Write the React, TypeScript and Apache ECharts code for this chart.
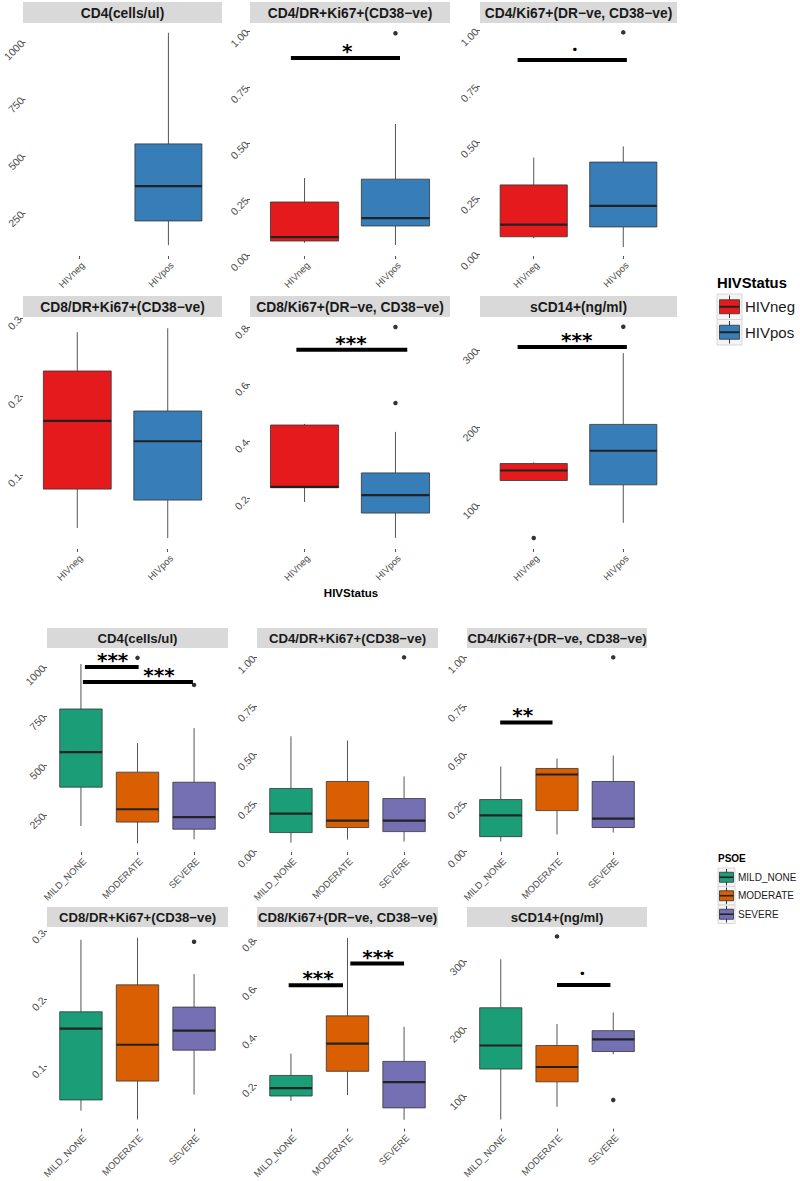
import React, { useEffect, useRef } from 'react';
import * as echarts from 'echarts';

const FONT = '"Liberation Sans", Arial, Helvetica, sans-serif';

// ---------- categories & colours ----------
const hivCats = ['HIVneg', 'HIVpos'];
const psoeCats = ['MILD_NONE', 'MODERATE', 'SEVERE'];
const hivColors = ['#E41A1C', '#377EB8'];
const psoeColors = ['#1B9E77', '#D95F02', '#7570B3'];

const markerTitles = [
  'CD4(cells/ul)',
  'CD4/DR+Ki67+(CD38−ve)',
  'CD4/Ki67+(DR−ve, CD38−ve)',
  'CD8/DR+Ki67+(CD38−ve)',
  'CD8/Ki67+(DR−ve, CD38−ve)',
  'sCD14+(ng/ml)',
];

// ---------- y ticks ----------
const ticksCD4 = [250, 500, 750, 1000];
const labelsCD4 = ['250', '500', '750', '1000'];
const ticksFrac = [0, 0.25, 0.5, 0.75, 1];
const labelsFrac = ['0.00', '0.25', '0.50', '0.75', '1.00'];
const ticksCD8DR = [0.1, 0.2, 0.3];
const labelsCD8DR = ['0.1', '0.2', '0.3'];
const ticksCD8Ki = [0.2, 0.4, 0.6, 0.8];
const labelsCD8Ki = ['0.2', '0.4', '0.6', '0.8'];
const ticksSCD14 = [100, 200, 300];
const labelsSCD14 = ['100', '200', '300'];

// ---------- y ranges (axis limits) ----------
const hivRanges = [[61.4, 1083], [-0.004, 1.036], [-0.01, 1.032], [0.0057, 0.3013], [0.021, 0.835], [43.2, 342.6]];
const psoeRanges = [[62.5, 1096], [-0.002, 1.048], [-0.002, 1.048], [0.0074, 0.307], [0.0204, 0.853], [51.5, 351]];

// ---------- box stats: [lower whisker, Q1, median, Q3, upper whisker] per category ----------
const hivCD4 = [null, [109, 215, 368, 553, 1040]];
const hivCD4DR = [[0.055, 0.063, 0.08, 0.237, 0.344], [0.045, 0.13, 0.165, 0.339, 0.585]];
const hivCD4Ki = [[0.07, 0.076, 0.13, 0.308, 0.43], [0.03, 0.12, 0.214, 0.41, 0.48]];
const hivCD8DR = [[0.0325, 0.082, 0.169, 0.2325, 0.282], [0.0196, 0.068, 0.143, 0.1815, 0.287]];
const hivCD8Ki = [[0.186, 0.236, 0.239, 0.456, 0.46], [0.06, 0.147, 0.21, 0.288, 0.432]];
const hivSCD14 = [[131, 131.6, 144.5, 153.5, 155], [77, 126, 170, 204, 296]];

const psoeCD4 = [[194, 391, 568, 787, 1015], [107, 214, 279, 467, 614], [127, 178, 239, 416, 690]];
const psoeCD4DR = [[0.046, 0.098, 0.196, 0.325, 0.593], [0.062, 0.124, 0.16, 0.361, 0.572], [0.052, 0.103, 0.16, 0.273, 0.387]];
const psoeCD4Ki = [[0.052, 0.077, 0.186, 0.268, 0.438], [0.088, 0.211, 0.397, 0.428, 0.479], [0.098, 0.124, 0.17, 0.361, 0.495]];
const psoeCD8DR = [[0.034, 0.05, 0.156, 0.181, 0.288], [0.021, 0.078, 0.132, 0.221, 0.291], [0.058, 0.124, 0.153, 0.188, 0.237]];
const psoeCD8Ki = [[0.135, 0.155, 0.188, 0.24, 0.33], [0.159, 0.257, 0.371, 0.486, 0.808], [0.057, 0.106, 0.212, 0.298, 0.441]];
const psoeSCD14 = [[65, 140, 175, 231, 303], [84, 121, 143, 175, 207], [162, 166, 184, 197, 224]];

// ---------- outliers: [category index, value] ----------
const hivCD4Out: number[][] = [];
const hivCD4DROut = [[1, 0.99]];
const hivCD4KiOut = [[1, 0.99]];
const hivCD8DROut: number[][] = [];
const hivCD8KiOut = [[1, 0.533], [1, 0.8]];
const hivSCD14Out = [[0, 57.4], [1, 330]];

const psoeCD4Out = [[1, 1046], [2, 909]];
const psoeCD4DROut = [[2, 1.0]];
const psoeCD4KiOut = [[2, 1.0]];
const psoeCD8DROut = [[2, 0.285]];
const psoeCD8KiOut: number[][] = [];
const psoeSCD14Out = [[1, 337], [2, 94]];

// ---------- significance bars: [x start, x end, y, label x, label] ----------
type Sig = [number, number, number, number, string];
const hivCD4Sig: Sig[] = [];
const hivCD4DRSig: Sig[] = [[-0.15, 1.05, 0.88, 0.47, '*']];
const hivCD4KiSig: Sig[] = [[-0.18, 1.04, 0.866, 0.46, '.']];
const hivCD8DRSig: Sig[] = [];
const hivCD8KiSig: Sig[] = [[-0.09, 1.13, 0.72, 0.51, '***']];
const hivSCD14Sig: Sig[] = [[-0.18, 1.04, 304, 0.48, '***']];

const psoeCD4Sig: Sig[] = [[0.07, 1.02, 1000, 0.56, '***'], [0.035, 1.98, 924, 1.38, '***']];
const psoeCD4DRSig: Sig[] = [];
const psoeCD4KiSig: Sig[] = [[-0.01, 0.92, 0.665, 0.39, '**']];
const psoeCD8DRSig: Sig[] = [];
const psoeCD8KiSig: Sig[] = [[-0.04, 0.92, 0.612, 0.48, '***'], [1.05, 2.0, 0.702, 1.54, '***']];
const psoeSCD14Sig: Sig[] = [[1.0, 1.95, 265, 1.45, '.']];

const tickSets = [
  [ticksCD4, labelsCD4], [ticksFrac, labelsFrac], [ticksFrac, labelsFrac],
  [ticksCD8DR, labelsCD8DR], [ticksCD8Ki, labelsCD8Ki], [ticksSCD14, labelsSCD14],
];
const hivStats = [hivCD4, hivCD4DR, hivCD4Ki, hivCD8DR, hivCD8Ki, hivSCD14];
const hivOuts = [hivCD4Out, hivCD4DROut, hivCD4KiOut, hivCD8DROut, hivCD8KiOut, hivSCD14Out];
const hivSigs = [hivCD4Sig, hivCD4DRSig, hivCD4KiSig, hivCD8DRSig, hivCD8KiSig, hivSCD14Sig];
const psoeStats = [psoeCD4, psoeCD4DR, psoeCD4Ki, psoeCD8DR, psoeCD8Ki, psoeSCD14];
const psoeOuts = [psoeCD4Out, psoeCD4DROut, psoeCD4KiOut, psoeCD8DROut, psoeCD8KiOut, psoeSCD14Out];
const psoeSigs = [psoeCD4Sig, psoeCD4DRSig, psoeCD4KiSig, psoeCD8DRSig, psoeCD8KiSig, psoeSCD14Sig];

// ---------- layout ----------
const figs = [
  {
    cats: hivCats, colors: hivColors, stats: hivStats, outs: hivOuts, sigs: hivSigs, ranges: hivRanges,
    colLeft: [23, 250, 480], colWidth: [199, 200, 197],
    rowTop: [23, 317], rowHeight: [233, 232], stripTop: [2, 296], stripH: 21, stripFont: 13.8,
  },
  {
    cats: psoeCats, colors: psoeColors, stats: psoeStats, outs: psoeOuts, sigs: psoeSigs, ranges: psoeRanges,
    colLeft: [47, 257, 467], colWidth: [181, 181, 180],
    rowTop: [648, 927], rowHeight: [204, 204], stripTop: [628, 907], stripH: 20, stripFont: 13.2,
  },
];

function makeBoxRender(colors: string[]) {
  return (params: any, api: any) => {
    const k = api.value(0);
    const pLo = api.coord([k, api.value(1)]);
    const x = pLo[0];
    const yLo = pLo[1];
    const yQ1 = api.coord([k, api.value(2)])[1];
    const yMed = api.coord([k, api.value(3)])[1];
    const yQ3 = api.coord([k, api.value(4)])[1];
    const yHi = api.coord([k, api.value(5)])[1];
    const w = api.size([1, 0])[0] * 0.75;
    return {
      type: 'group',
      children: [
        { type: 'line', shape: { x1: x, y1: yHi, x2: x, y2: yQ3 }, style: { stroke: '#555', lineWidth: 1 } },
        { type: 'line', shape: { x1: x, y1: yQ1, x2: x, y2: yLo }, style: { stroke: '#555', lineWidth: 1 } },
        { type: 'rect', shape: { x: x - w / 2, y: yQ3, width: w, height: yQ1 - yQ3 }, style: { fill: colors[k], stroke: '#333', lineWidth: 0.8 } },
        { type: 'line', shape: { x1: x - w / 2, y1: yMed, x2: x + w / 2, y2: yMed }, style: { stroke: '#222', lineWidth: 2.2 } },
      ],
    };
  };
}

function makeSigRender(sig: Sig[]) {
  return (params: any, api: any) => {
    const y = api.value(2);
    const p1 = api.coord([api.value(0), y]);
    const p2 = api.coord([api.value(1), y]);
    const pl = api.coord([api.value(3), y]);
    const label = sig[params.dataIndex][4];
    const isDot = label === '.';
    return {
      type: 'group',
      children: [
        { type: 'line', shape: { x1: p1[0], y1: p1[1], x2: p2[0], y2: p2[1] }, style: { stroke: '#000', lineWidth: 4 } },
        {
          type: 'text', x: pl[0], y: pl[1] - (isDot ? 17 : 7),
          style: { text: label, fill: '#000', fontFamily: isDot ? '"Noto Sans", sans-serif' : '"DejaVu Sans", sans-serif', fontSize: 20, fontWeight: 'bold', align: 'center', verticalAlign: 'middle' },
        },
      ],
    };
  };
}

function buildOption() {
  const grid: any[] = [];
  const xAxis: any[] = [];
  const yAxis: any[] = [];
  const series: any[] = [];
  const graphic: any[] = [];
  let gi = 0;
  figs.forEach((f) => {
    const N = f.cats.length;
    for (let p = 0; p < 6; p++) {
      const row = Math.floor(p / 3);
      const col = p % 3;
      const left = f.colLeft[col];
      const width = f.colWidth[col];
      const top = f.rowTop[row];
      const height = f.rowHeight[row];
      grid.push({ left, top, width, height, containLabel: false });
      const cats = f.cats;
      xAxis.push({
        type: 'value', gridIndex: gi, min: -0.6, max: N - 0.4,
        axisLine: { show: false, onZero: false },
        splitLine: { show: false },
        axisTick: { show: true, length: 3, lineStyle: { color: '#555', width: 1 }, customValues: cats.map((_, i) => i) },
        axisLabel: {
          show: true, rotate: 45, margin: 4, fontSize: 9.5, color: '#4D4D4D', fontFamily: FONT,
          verticalAlign: 'top',
          customValues: cats.map((_, i) => i), formatter: (v: number) => cats[Math.round(v)] ?? '',
          hideOverlap: false,
        },
      });
      const [ticks, labels] = tickSets[p] as [number[], string[]];
      yAxis.push({
        type: 'value', gridIndex: gi, min: f.ranges[p][0], max: f.ranges[p][1],
        axisLine: { show: false, onZero: false },
        splitLine: { show: false },
        axisTick: { show: true, length: 3, lineStyle: { color: '#555', width: 1 }, customValues: ticks },
        axisLabel: {
          show: true, rotate: 45, margin: 3, fontSize: 10.5, color: '#4D4D4D', fontFamily: FONT,
          customValues: ticks,
          formatter: (v: number) => {
            const i = ticks.findIndex((t) => Math.abs(t - v) < 1e-9);
            return i >= 0 ? labels[i] : '';
          },
          hideOverlap: false,
        },
      });
      const stats = f.stats[p] as (number[] | null)[];
      const boxData = stats
        .map((s, k) => (s ? [k, ...s] : null))
        .filter((d) => d !== null);
      series.push({
        type: 'custom', xAxisIndex: gi, yAxisIndex: gi, clip: false,
        renderItem: makeBoxRender(f.colors),
        encode: { x: 0, y: [1, 2, 3, 4, 5] },
        data: boxData,
        silent: true,
      });
      series.push({
        type: 'scatter', xAxisIndex: gi, yAxisIndex: gi, symbol: 'circle', symbolSize: 4.5,
        itemStyle: { color: '#000' }, data: f.outs[p], silent: true,
      });
      const sig = f.sigs[p] as Sig[];
      if (sig.length) {
        series.push({
          type: 'custom', xAxisIndex: gi, yAxisIndex: gi, clip: false,
          renderItem: makeSigRender(sig),
          encode: { x: [0, 1, 3], y: 2 },
          data: sig.map((s) => [s[0], s[1], s[2], s[3]]),
          silent: true,
        });
      }
      graphic.push({
        type: 'rect', silent: true,
        shape: { x: left, y: f.stripTop[row], width, height: f.stripH },
        style: { fill: '#D9D9D9' },
      });
      graphic.push({
        type: 'text', silent: true,
        x: left + width / 2, y: f.stripTop[row] + f.stripH / 2 + 0.5,
        style: { text: markerTitles[p], fill: '#1A1A1A', fontFamily: FONT, fontSize: f.stripFont, fontWeight: 'bold', align: 'center', verticalAlign: 'middle' },
      });
      gi++;
    }
  });

  // x-axis title of the HIV figure
  graphic.push({
    type: 'text', silent: true, x: 351, y: 593,
    style: { text: 'HIVStatus', fill: '#000', fontFamily: FONT, fontSize: 11.5, fontWeight: 'bold', align: 'center', verticalAlign: 'middle' },
  });

  // legend: HIVStatus
  graphic.push({
    type: 'text', silent: true, x: 717, y: 283,
    style: { text: 'HIVStatus', fill: '#000', fontFamily: FONT, fontSize: 14.8, fontWeight: 'bold', align: 'left', verticalAlign: 'middle' },
  });
  hivCats.forEach((c, i) => {
    const ky = 294 + i * 25.5;
    const cy = ky + 12.75;
    graphic.push({ type: 'rect', silent: true, shape: { x: 717, y: ky, width: 25, height: 25.5 }, style: { fill: '#F4F4F4', stroke: '#CFCFCF', lineWidth: 0.8 } });
    graphic.push({ type: 'line', silent: true, shape: { x1: 729.5, y1: ky + 1.5, x2: 729.5, y2: ky + 24 }, style: { stroke: '#333', lineWidth: 1 } });
    graphic.push({ type: 'rect', silent: true, shape: { x: 719.5, y: cy - 7, width: 20, height: 14 }, style: { fill: hivColors[i], stroke: '#333', lineWidth: 0.8 } });
    graphic.push({ type: 'line', silent: true, shape: { x1: 719.5, y1: cy, x2: 739.5, y2: cy }, style: { stroke: '#222', lineWidth: 2 } });
    graphic.push({
      type: 'text', silent: true, x: 745, y: cy,
      style: { text: c, fill: '#1A1A1A', fontFamily: FONT, fontSize: 15, align: 'left', verticalAlign: 'middle' },
    });
  });

  // legend: PSOE
  graphic.push({
    type: 'text', silent: true, x: 718, y: 858,
    style: { text: 'PSOE', fill: '#000', fontFamily: FONT, fontSize: 10, fontWeight: 'bold', align: 'left', verticalAlign: 'middle' },
  });
  psoeCats.forEach((c, i) => {
    const ky = 868 + i * 18.5;
    const cy = ky + 9.25;
    graphic.push({ type: 'rect', silent: true, shape: { x: 718, y: ky, width: 17, height: 18.5 }, style: { fill: '#F4F4F4', stroke: '#CFCFCF', lineWidth: 0.8 } });
    graphic.push({ type: 'line', silent: true, shape: { x1: 726.5, y1: ky + 1, x2: 726.5, y2: ky + 17.5 }, style: { stroke: '#333', lineWidth: 1 } });
    graphic.push({ type: 'rect', silent: true, shape: { x: 719.5, y: cy - 5, width: 14, height: 10 }, style: { fill: psoeColors[i], stroke: '#333', lineWidth: 0.8 } });
    graphic.push({ type: 'line', silent: true, shape: { x1: 719.5, y1: cy, x2: 733.5, y2: cy }, style: { stroke: '#222', lineWidth: 1.6 } });
    graphic.push({
      type: 'text', silent: true, x: 738, y: cy,
      style: { text: c, fill: '#1A1A1A', fontFamily: FONT, fontSize: 10, align: 'left', verticalAlign: 'middle' },
    });
  });

  return {
    animation: false,
    backgroundColor: '#FFFFFF',
    textStyle: { fontFamily: FONT },
    grid, xAxis, yAxis, series, graphic,
  };
}

export default function App() {
  const ref = useRef<HTMLDivElement>(null);
  useEffect(() => {
    if (!ref.current) return;
    const chart = echarts.init(ref.current, undefined, { renderer: 'svg' });
    chart.setOption(buildOption() as any);
    return () => chart.dispose();
  }, []);
  return (
    <div
      ref={ref}
      style={{ position: 'absolute', left: 0, top: 0, width: 800, height: 1181, background: '#fff' }}
    />
  );
}
